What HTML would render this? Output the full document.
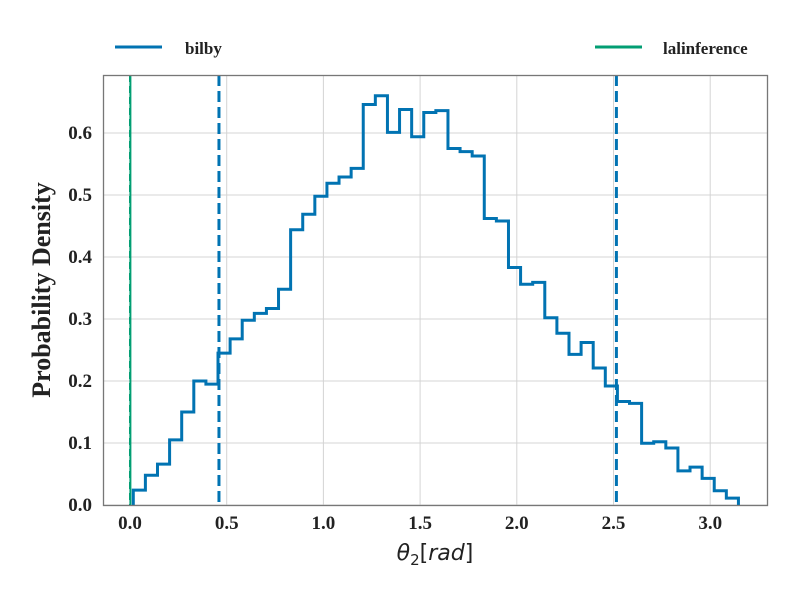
<!DOCTYPE html>
<html><head><meta charset="utf-8">
<style>
body{margin:0;background:#fff;}
svg{display:block;}
.tick{font-family:"Liberation Serif",serif;font-weight:bold;font-size:19px;fill:#222;}
</style></head>
<body>
<svg id="chart" width="800" height="600" xmlns="http://www.w3.org/2000/svg">
<rect x="0" y="0" width="800" height="600" fill="#fff"/>
<g id="grid"></g>
<g id="marks"></g>
<rect x="103.5" y="75.5" width="664" height="430" fill="none" stroke="#777" stroke-width="1.3"/>
<g id="ticks"></g>
<text x="50" y="290" transform="rotate(-90 50 290)" text-anchor="middle" font-family="Liberation Serif, serif" font-weight="bold" font-size="26" fill="#222">Probability Density</text>
<text x="435" y="560" text-anchor="middle" font-family="DejaVu Sans, sans-serif" font-size="22" fill="#222"><tspan font-style="italic">θ</tspan><tspan font-size="15" dy="5">2</tspan><tspan dy="-5">[</tspan><tspan font-style="italic">rad</tspan><tspan>]</tspan></text>
<g>
<line x1="115" y1="47" x2="162" y2="47" stroke="#0173b2" stroke-width="3"/>
<text x="185" y="54" font-family="Liberation Serif, serif" font-weight="bold" font-size="17" fill="#222">bilby</text>
</g>
<g>
<line x1="595" y1="47" x2="642" y2="47" stroke="#029e73" stroke-width="3"/>
<text x="663" y="54" font-family="Liberation Serif, serif" font-weight="bold" font-size="17" fill="#222">lalinference</text>
</g>
</svg>
<script>
const binStart = 0.017;
const binWidth = 0.06258;
const densities = [0.024,0.048,0.066,0.105,0.150,0.200,0.195,0.245,0.268,0.298,0.309,0.317,0.348,0.444,0.469,0.498,0.519,0.529,0.543,0.646,0.660,0.601,0.638,0.594,0.633,0.636,0.575,0.570,0.563,0.462,0.458,0.383,0.356,0.359,0.302,0.277,0.243,0.262,0.221,0.192,0.167,0.164,0.0995,0.102,0.092,0.055,0.061,0.043,0.023,0.011];
const bilbyBounds = [0.460, 2.515];
const lalBounds = [0.0, 0.002];
const xTicks = [0.0,0.5,1.0,1.5,2.0,2.5,3.0];
const yTicks = [0.0,0.1,0.2,0.3,0.4,0.5,0.6];

const X0=130, XS=193.4, Y0=505, YS=620;
const xs = v => X0 + v*XS;
const ys = v => Y0 - v*YS;
const NS="http://www.w3.org/2000/svg";
function mk(tag, attrs, parent){const e=document.createElementNS(NS,tag);for(const k in attrs)e.setAttribute(k,attrs[k]);parent.appendChild(e);return e;}
const grid=document.getElementById('grid'), marks=document.getElementById('marks'), ticks=document.getElementById('ticks');

xTicks.forEach(t=>{
  const l=mk('line',{x1:xs(t),x2:xs(t),y1:75,y2:505,stroke:'#d4d4d4','stroke-width':1},grid);
  
  
  const tx=mk('text',{x:xs(t),y:529,'text-anchor':'middle',class:'tick'},ticks);
  tx.textContent=t.toFixed(1);
  
  
});
yTicks.forEach(t=>{
  const l=mk('line',{x1:103,x2:767,y1:ys(t),y2:ys(t),stroke:'#d4d4d4','stroke-width':1},grid);
  
  
  const tx=mk('text',{x:92,y:ys(t)+6,'text-anchor':'end',class:'tick'},ticks);
  tx.textContent=t.toFixed(1);
  
  
});

const g1=mk('line',{x1:xs(lalBounds[1]),x2:xs(lalBounds[1]),y1:75,y2:505,stroke:'#029e73','stroke-width':2},marks);


const g2=mk('line',{x1:xs(lalBounds[0]),x2:xs(lalBounds[0]),y1:75,y2:505,stroke:'#029e73','stroke-width':2,'stroke-dasharray':'7,4'},marks);



let d='M'+xs(binStart)+','+ys(0);
densities.forEach((v,i)=>{
  const a=xs(binStart+i*binWidth), b=xs(binStart+(i+1)*binWidth);
  d+=' L'+a+','+ys(v)+' L'+b+','+ys(v);
});
d+=' L'+xs(binStart+densities.length*binWidth)+','+ys(0);
const p=mk('path',{d:d,fill:'none',stroke:'#0173b2','stroke-width':3,'stroke-linejoin':'miter'},marks);



bilbyBounds.forEach(b=>{
  const l=mk('line',{x1:xs(b),x2:xs(b),y1:75,y2:505,stroke:'#0173b2','stroke-width':3,'stroke-dasharray':'11,5'},marks);
  
  
});
</script>
</body></html>
